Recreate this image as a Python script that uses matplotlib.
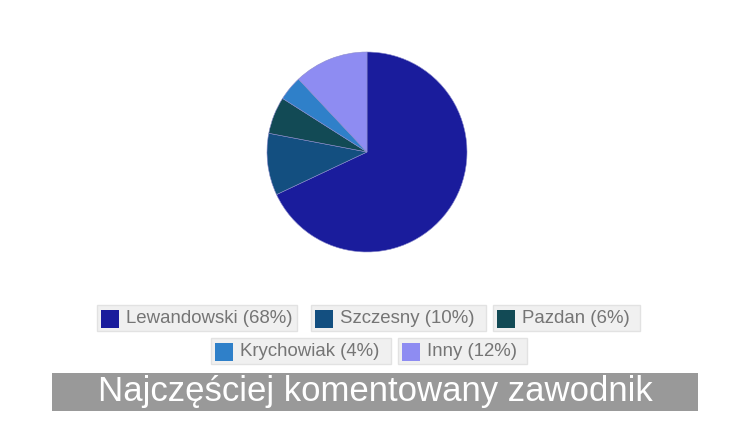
import matplotlib.pyplot as plt
from matplotlib.patches import Rectangle

plt.rcParams['font.family'] = ['Liberation Sans', 'DejaVu Sans']

# dane
players = ["Lewandowski", "Szczesny", "Pazdan", "Krychowiak", "Inny"]
shares = [68, 10, 6, 4, 12]
colors = ["#1a1c9c", "#134f80", "#124a55", "#2f80c9", "#8e8cf2"]
title = "Najczęściej komentowany zawodnik"

W, H = 743, 437
fig = plt.figure(figsize=(W / 100, H / 100), dpi=100)


def fx(x):
    return x / W


def fy(y):
    return 1 - y / H


# wykres kołowy (środek ~ (367,152), promień ~100 px)
cx, cy, r = 367, 152, 100
ax = fig.add_axes([fx(cx - r), fy(cy + r), 2 * r / W, 2 * r / H])
ax.pie(shares, colors=colors, startangle=90, counterclock=False,
       wedgeprops=dict(linewidth=0.4, edgecolor="#8a8acc"))
ax.set_xlim(-1, 1)
ax.set_ylim(-1, 1)
ax.set_aspect("equal")
ax.axis("off")

# legenda (ręcznie, jak w oryginale)
boxes = [
    (97, 305, 297), (311, 305, 486), (493, 305, 640),
    (211, 338, 391), (398, 338, 527),
]
for (x0, y0, x1), name, val, col in zip(boxes, players, shares, colors):
    h = 26
    fig.patches.append(Rectangle((fx(x0), fy(y0 + h)), (x1 - x0) / W, h / H,
                                 transform=fig.transFigure, facecolor="#f0f0f0",
                                 edgecolor="#e2e2e2", linewidth=1))
    fig.patches.append(Rectangle((fx(x0 + 4), fy(y0 + 23)), 18 / W, 18 / H,
                                 transform=fig.transFigure, facecolor=col,
                                 edgecolor="none"))
    fig.text(fx(x0 + 29), fy(y0 + h / 2 + 0.5), f"{name} ({val}%)",
             fontsize=13.4, color="#757575", ha="left", va="center")

# tytuł na szarym pasku
fig.patches.append(Rectangle((fx(52), fy(411)), (698 - 52) / W, 38 / H,
                             transform=fig.transFigure, facecolor="#999999",
                             edgecolor="none"))
fig.text(fx(375), fy(392), title, fontsize=25, color="white",
         ha="center", va="center")

fig.savefig("out.png", dpi=100)
